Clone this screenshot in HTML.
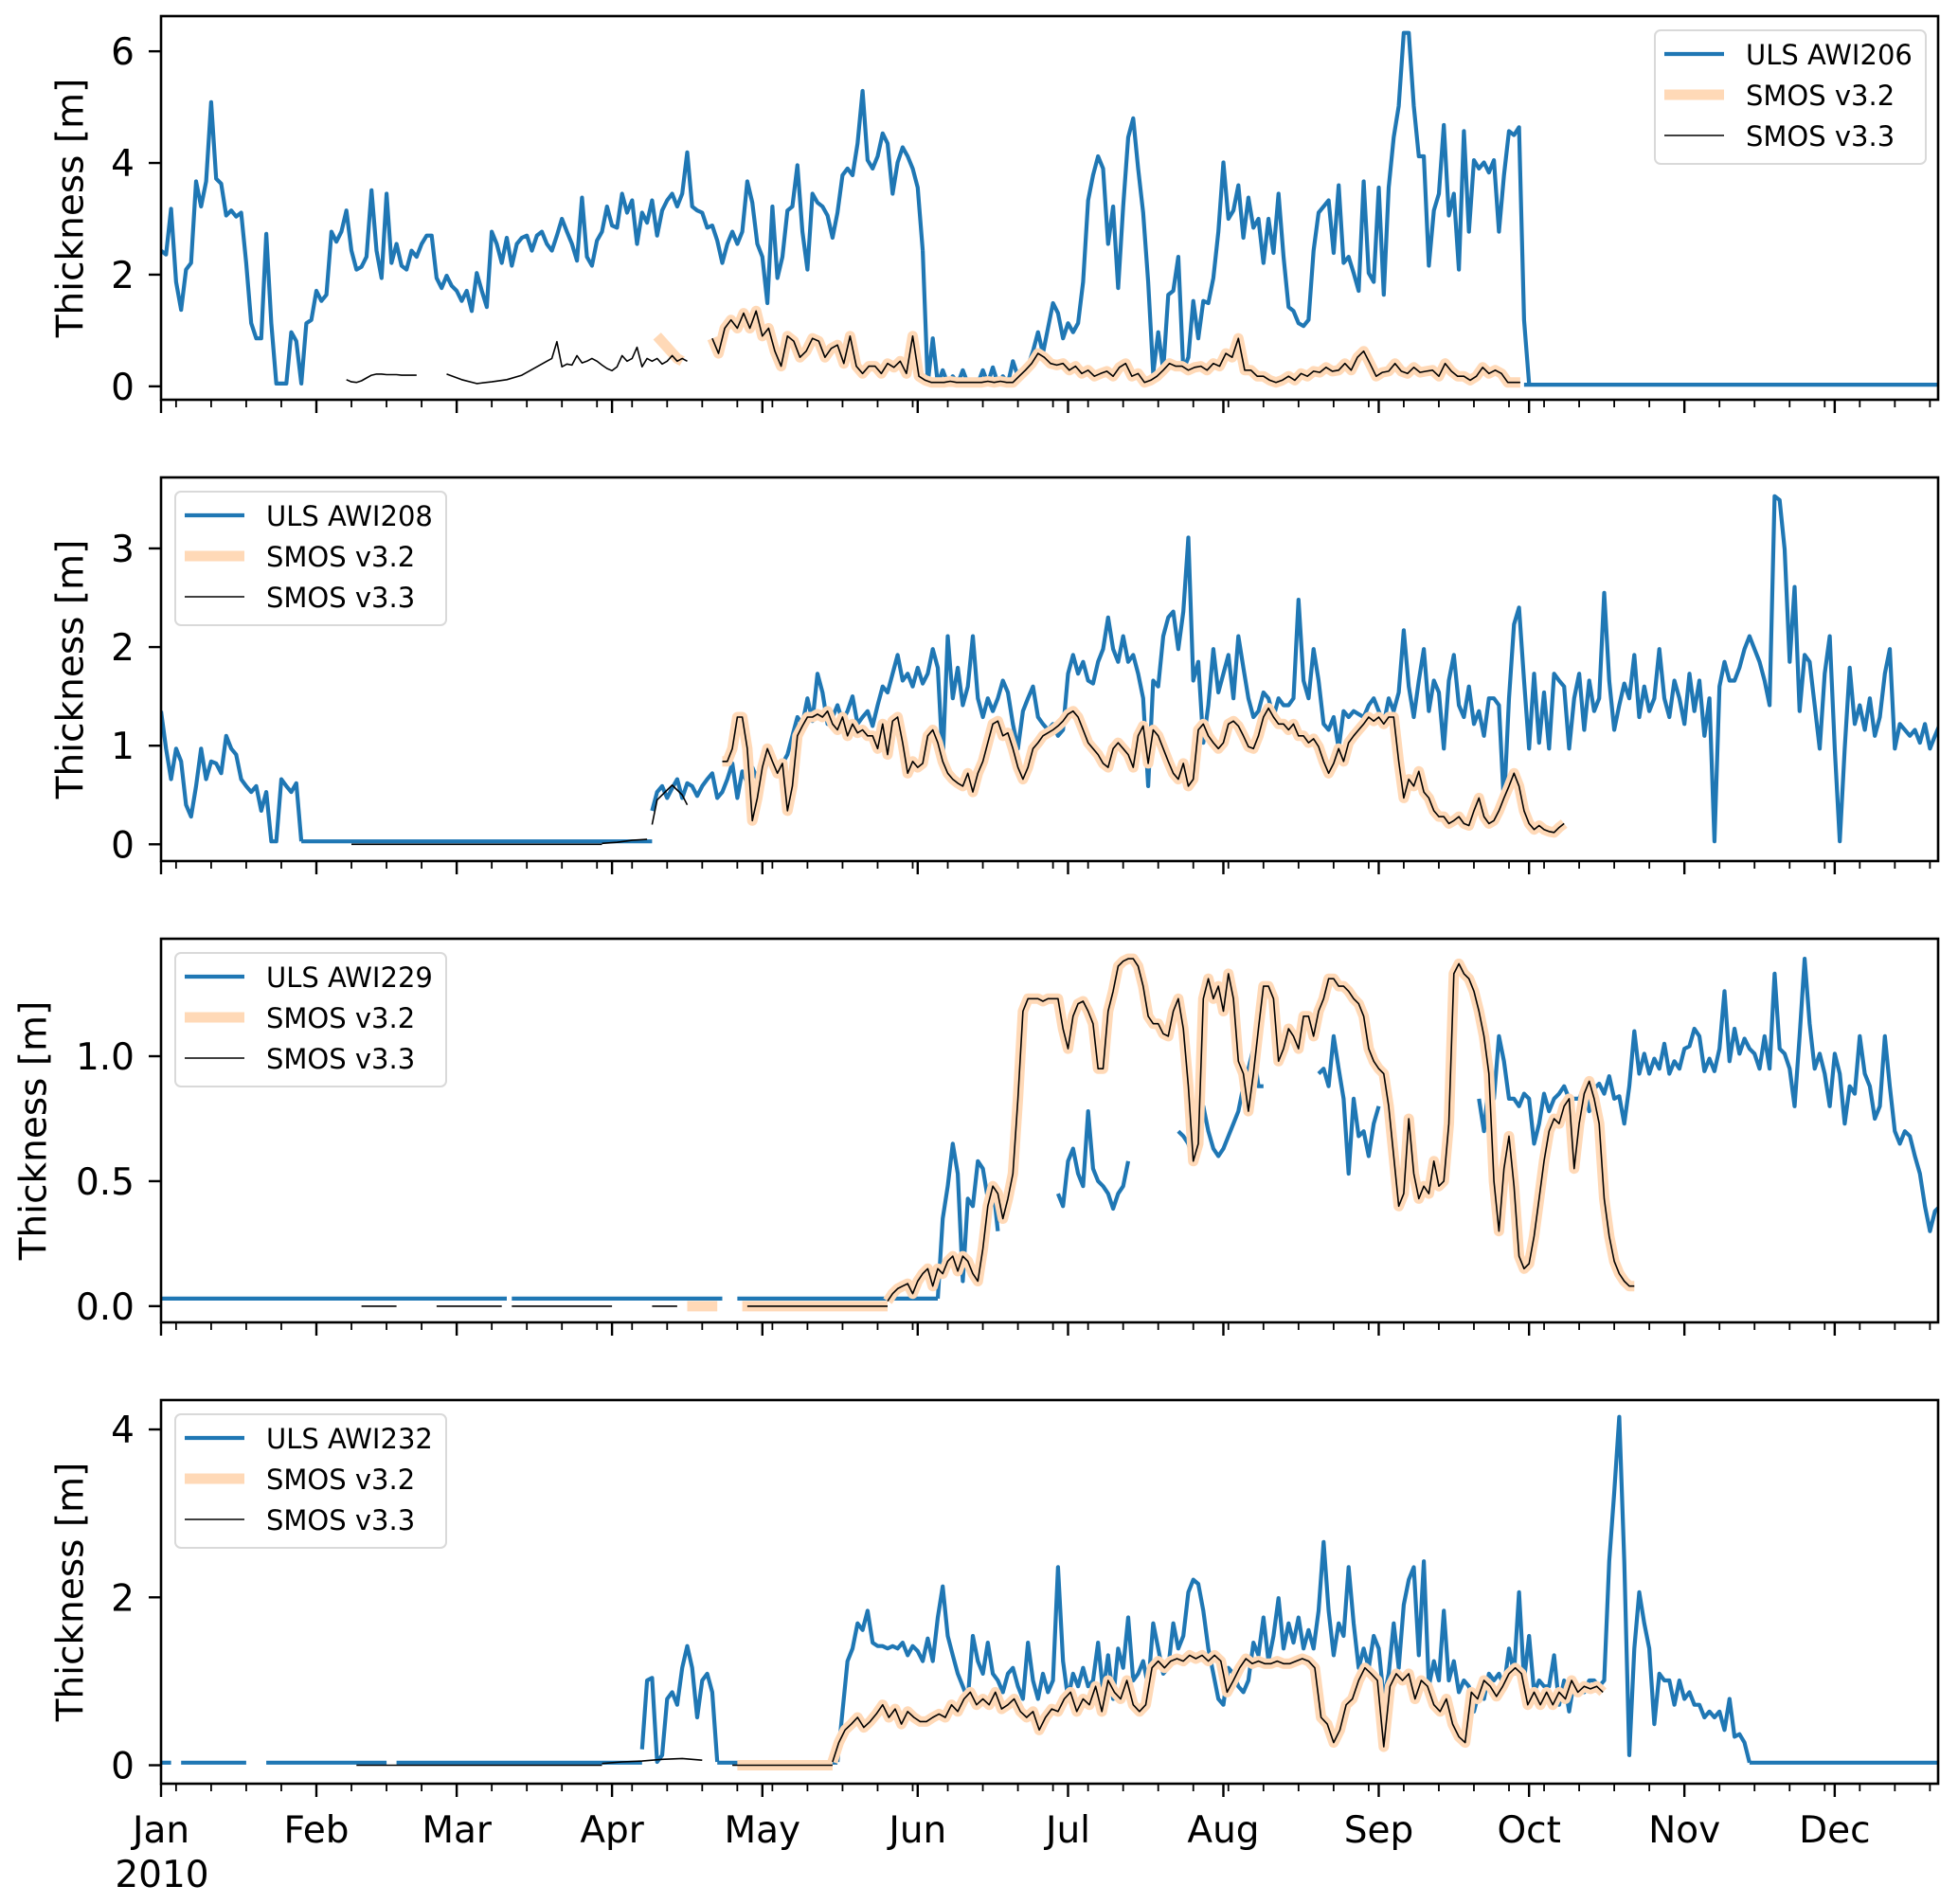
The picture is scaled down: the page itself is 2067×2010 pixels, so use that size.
<!DOCTYPE html>
<html><head><meta charset="utf-8">
<style>
html,body{margin:0;padding:0;background:#fff;}
svg{display:block;font-family:"DejaVu Sans","Liberation Sans",sans-serif;}
</style></head>
<body>
<svg id="chart" width="2067" height="2010" viewBox="0 0 2067 2010" xmlns="http://www.w3.org/2000/svg"></svg>
<script>
// ---------- DATA (day of year 2010, 0 = Jan 1; thickness in m) ----------
const monthLabels = ["Jan","Feb","Mar","Apr","May","Jun","Jul","Aug","Sep","Oct","Nov","Dec"];
const monthStartDays = [0,31,59,90,120,151,181,212,243,273,304,334];
const panelNames = ["ULS AWI206","ULS AWI208","ULS AWI229","ULS AWI232"];
const p1Ticks = [0,2,4,6];
const p2Ticks = [0,1,2,3];
const p3Ticks = [0.0,0.5,1.0];
const p4Ticks = [0,2,4];

// Panel 1
const p1Uls = [
 {d0:0, v:[2.43,2.36,3.18,1.87,1.37,2.09,2.21,3.67,3.22,3.67,5.09,3.72,3.63,3.06,3.15,3.04,3.11,2.21,1.13,0.86,.86,2.73,1.13,.05,.05,.05,.97,.81,.05,1.13,1.19,1.71,1.53,1.64,2.77,2.59,2.77,3.15,2.43,2.09,2.14,2.32,3.51,2.43,1.94,3.45,2.21,2.55,2.16,2.09,2.43,2.32,2.55,2.7,2.7,1.94,1.76,1.98,1.8,1.71,1.53,1.71,1.35,2.03,1.71,1.42,2.77,2.55,2.21,2.66,2.16,2.55,2.66,2.7,2.43,2.7,2.77,2.55,2.43,2.7,3.0,2.77,2.55,2.25,3.38,2.32,2.16,2.61,2.77,3.22,2.88,2.84,3.45,3.11,3.33,2.55,3.11,2.93,3.33,2.7,3.15,3.33,3.45,3.22,3.45,4.19,3.22,3.15,3.11,2.84,2.88,2.61,2.21,2.55,2.77,2.55,2.77,3.67,3.29,2.55,2.32,1.49,3.22,1.94,2.32,3.15,3.22,3.96,2.77,2.09,3.45,3.29,3.22,3.06,2.66,3.11,3.78,3.9,3.78,4.35,5.29,4.05,3.9,4.12,4.53,4.35,3.45,4.01,4.28,4.12,3.9,3.56,2.43]},
 {d0:152, v:[2.43,.05,.86,.05,.29,.05,.18,.05,.29,.05,.11,.05,.29,.05,.34,.05,.18,.05,.45,.18,.18,.36,.63,.97,.59,1.04,1.49,1.31,.86,1.13,.97,1.13,1.87,3.33,3.78,4.12,3.9,2.55,3.22,1.76,3.22,4.46,4.8,3.9,3.11,1.87,.23,.97,.29,1.64,1.71,2.32,.29,.52,1.53,.86,1.53,1.49,1.94,2.77,4.01,3.0,3.15,3.6,2.66,3.38,2.84,3.0,2.21,3.0,2.39,3.45,2.32,1.42,1.35,1.13,1.08,1.19,2.43,3.11,3.22,3.33,2.39,3.6,2.21,2.32,2.03,1.71,3.67,2.03,1.87,3.56,1.64,3.56,4.46,5.02,6.33,6.33,5.02,4.12,4.12,2.16,3.15,3.45,4.68,3.06,3.45,2.09,4.57,2.77,4.05,3.9,4.01,3.83,4.05,2.77,3.78,4.57,4.5,4.64,1.19,.05]},
 {d0:272, step:83, v:[0.03,0.03]}
];
const p1SmosMain = [.86,.59,1.04,1.19,1.04,1.31,1.04,1.35,.9,1.04,.63,.36,.9,.81,.52,.63,.86,.81,.52,.68,.74,.41,.9,.36,.23,.36,.36,.23,.41,.34,.45,.23,.9,.18,.11,.07,.07,.07,.09,.07,.07,.07,.07,.07,.09,.07,.09,.07,.07,.18,.29,.41,.59,.52,.41,.38,.41,.29,.36,.23,.29,.18,.23,.27,.18,.34,.41,.18,.23,.07,.11,.18,.29,.41,.36,.36,.29,.34,.36,.29,.41,.36,.59,.52,.86,.29,.29,.18,.18,.11,.07,.11,.18,.11,.23,.18,.27,.25,.34,.27,.29,.41,.29,.52,.63,.41,.18,.25,.27,.41,.27,.23,.34,.25,.27,.29,.18,.41,.27,.18,.18,.11,.18,.34,.23,.29,.23,.07,.07,.07];
const p1V33 = [
 {d0:37, v:[0.12,0.08,0.07,0.1,0.15,0.2,0.22,0.22,0.21,0.21,0.21,0.2,0.2,0.2,0.2]},
 {d:[57,60,63,66,69,72,75,77,78,79,80,81,82,83,84,85,86,87,88,89,90,91,92,93,94,95,96,97,98,99,100,101,102,103,104,105],
  v:[0.22,0.12,0.05,0.08,0.12,0.2,0.35,0.45,0.5,0.8,0.35,0.4,0.38,0.55,0.42,0.45,0.5,0.45,0.38,0.32,0.28,0.35,0.55,0.45,0.5,0.7,0.35,0.5,0.45,0.5,0.4,0.45,0.55,0.45,0.5,0.45]},
 {d0:110, step:1.25, v:p1SmosMain}
];
const p1V32 = [
 {d0:99, v:[0.9,0.8,0.7,0.6,0.5,0.45]},
 {d0:110, step:1.25, v:p1SmosMain}
];

// Panel 2
const p2Uls = [
 {d0:0, v:[1.35,.97,.66,.97,.84,.40,.28,.59,.97,.66,.84,.82,.72,1.10,.97,.91,.66,.59,.53,.59,.34,.53,.03,.03,.66,.59,.53,.62,.03]},
 {d0:28, step:70, v:[.03,.03]},
 {d0:98, v:[.34,.53,.59,.47,.57,.66,.47,.62,.59,.49,.59,.66,.72,.47,.53,.66,.82,.47,.74,.62,.78,.66,.66,.84,.84,.72,.82,.91,1.10,1.29,1.22,1.48,1.25,1.73,1.54,1.22,1.29,1.41,1.25,1.35,1.50,1.22,1.29,1.35,1.20,1.41,1.60,1.54,1.73,1.92,1.66,1.73,1.60,1.79,1.63,1.73,1.98,1.79,.84,2.11,1.48,1.79,1.41,1.60,2.11,1.48,1.29,1.48,1.35,1.48,1.66,1.54,1.22,.97,1.35,1.48,1.60,1.29,1.22,1.16,1.22,1.10,1.16,1.73,1.92,1.73,1.85,1.66,1.63,1.85,1.98,2.30,1.98,1.85,2.11,1.85,1.92,1.73,1.48,.59,1.66,1.60,2.11,2.30,2.36,1.98,2.36,3.11,1.66,1.85,1.03,1.41,1.98,1.54,1.73,1.92,1.48,2.11,1.79,1.48,1.29,1.35,1.54,1.48,1.29,1.48,1.41,1.41,1.48,2.48,1.66,1.48,1.98,1.66,1.22,1.16,1.29,.97,1.35,1.29,1.35,1.32,1.29,1.41,1.48,1.35,1.22,1.48,1.35,1.54,2.17,1.60,1.29,1.66,1.98,1.35,1.66,1.54,.97,1.66,1.92,1.41,1.29,1.60,1.22,1.35,1.10,1.48,1.48,1.41,.40,1.48,2.23,2.40,1.66,.97,1.73,1.03,1.54,.97,1.73,1.66,1.60,.97,1.48,1.73,1.16,1.66,1.35,1.48,2.55,1.66,1.16,1.41,1.63,1.48,1.92,1.29,1.60,1.35,1.48,1.98,1.48,1.29,1.66,1.48,1.22,1.73,1.35,1.66,1.10,1.48,.03,1.60,1.85,1.66,1.66,1.79,1.98,2.11,1.98,1.85,1.66,1.41,3.53,3.49,2.99,1.85,2.61,1.35,1.92,1.85,1.41,.97,1.73,2.11,.97,.03,.97,1.79,1.22,1.41,1.16,1.48,1.10,1.29,1.73,1.98,.97,1.22,1.16,1.10,1.16,1.03,1.22,.97,1.10,1.22,1.16]}
];
const p2SmosMain = [.84,.84,.97,1.29,1.29,.97,.24,.47,.78,.97,.84,.72,.82,.34,.59,1.10,1.20,1.29,1.29,1.32,1.29,1.35,1.22,1.16,1.29,1.10,1.22,1.13,1.16,1.10,1.10,.97,1.22,.91,1.25,1.29,1.03,.72,.84,.78,.82,1.10,1.16,1.03,.84,.72,.66,.62,.59,.72,.53,.72,.84,1.03,1.22,1.25,1.10,1.13,.97,.78,.66,.78,.97,1.03,1.10,1.13,1.16,1.20,1.25,1.32,1.35,1.29,1.16,1.03,.97,.91,.82,.78,.97,1.03,.97,.91,.78,1.10,1.20,.82,1.16,1.10,.97,.84,.72,.66,.82,.59,.66,1.16,1.22,1.10,1.03,.97,1.03,1.22,1.25,1.20,1.10,.99,.97,1.10,1.29,1.38,1.29,1.22,1.22,1.16,1.22,1.10,1.10,1.03,1.07,.99,.84,.72,.82,.97,.84,1.03,1.10,1.16,1.22,1.29,1.25,1.29,1.22,1.29,1.29,.84,.47,.66,.59,.74,.53,.47,.34,.28,.28,.21,.24,.28,.21,.19,.34,.47,.28,.21,.24,.34,.47,.59,.72,.59,.34,.21,.15,.19,.15,.13,.12,.17,.21];
const p2V33 = [
 {d0:38, step:50, v:[0,0]},
 {d:[88,91,94,97], v:[.01,.02,.04,.05]},
 {d0:98, v:[.2,.45,.5,.55,.6,.55,.5,.4]},
 {d0:112, v:p2SmosMain}
];
const p2V32 = [
 {d0:111, v:[.84]},
 {d0:112, v:p2SmosMain}
];

// Panel 3
const p3Uls = [
 {d0:0, step:69, v:[.03,.03]},
 {d0:70, step:42, v:[.03,.03]},
 {d0:115, step:40, v:[.03,.03]},
 {d0:155, v:[.03,.35,.48,.65,.53,.10,.43,.40,.58,.55,.43,.49,.30]},
 {d0:179, v:[.45,.40,.58,.63,.53,.48,.78,.55,.50,.48,.45,.39,.45,.48,.58]},
 {d0:203, v:[.70,.68,.65,.58,.78,.80,.70,.63,.60,.63,.68,.73,.78,.88,.95,1.03,.88,.88]},
 {d0:231, v:[.93,.95,.88,1.08,.95,.83,.53,.83,.68,.70,.60,.73,.80]},
 {d0:263, v:[.83,.70,.90,.83,1.08,.98,.83,.83,.80,.85,.83,.65,.73,.85,.78,.83,.85,.88,.83,.83,.83,.88,.78,.87,.89,.85,.92,.83,.84,.73,.88,1.10,.93,1.01,.93,.99,.95,1.05,.93,.98,.95,1.03,1.04,1.11,1.08,.94,.99,.94,1.03,1.26,.98,1.11,1.01,1.07,1.03,1.01,.95,1.08,.95,1.33,1.03,1.01,.95,.80,1.08,1.39,1.13,.95,1.01,.93,.80,1.01,.93,.73,.88,.85,1.08,.93,.88,.75,.80,1.08,.88,.70,.65,.70,.68,.60,.53,.40,.30,.38,.40,.88]}
];
const p3SmosMain = [.02,.05,.07,.08,.09,.05,.10,.13,.15,.08,.15,.13,.18,.20,.14,.20,.18,.13,.10,.23,.40,.48,.45,.35,.43,.53,.83,1.18,1.23,1.23,1.23,1.22,1.23,1.23,1.23,1.11,1.03,1.16,1.21,1.22,1.18,1.13,.95,.95,1.18,1.26,1.36,1.38,1.39,1.39,1.36,1.28,1.16,1.13,1.13,1.09,1.08,1.18,1.23,1.11,.88,.58,.65,1.23,1.31,1.23,1.28,1.18,1.33,1.23,.98,.93,.78,.93,1.11,1.28,1.28,1.23,.98,1.03,1.11,1.08,1.03,1.16,1.16,1.08,1.18,1.23,1.31,1.31,1.28,1.28,1.26,1.23,1.21,1.16,1.03,.98,.95,.93,.80,.60,.40,.45,.75,.53,.43,.48,.45,.58,.48,.50,.73,1.33,1.37,1.33,1.31,1.26,1.18,1.08,.93,.50,.30,.55,.68,.48,.20,.15,.17,.28,.43,.58,.70,.75,.73,.80,.83,.55,.73,.85,.90,.83,.73,.43,.28,.18,.13,.10,.08,.08];
const p3V33 = [
 {d0:40, step:7, v:[0,0]},
 {d0:55, step:13, v:[0,0]},
 {d0:70, step:20, v:[0,0]},
 {d0:98, step:5, v:[0,0]},
 {d0:117, step:28, v:[0,0]},
 {d0:145, v:p3SmosMain}
];
const p3V32 = [
 {d0:105, step:6, v:[0,0]},
 {d0:116, step:29, v:[0,0]},
 {d0:145, v:p3SmosMain}
];

// Panel 4
const p4Uls = [
 {d0:0, step:2, v:[.03,.03]},
 {d0:4, step:13, v:[.03,.03]},
 {d0:21, step:24, v:[.03,.03]},
 {d0:47, step:49, v:[.03,.03]},
 {d0:96, v:[.19,1.01,1.04,.04,.12,.79,.87,.72,1.16,1.42,1.16,.57,1.01,1.09,.87,.04]},
 {d0:111, step:24, v:[.03,.03]},
 {d0:135, v:[.04,.64,1.24,1.39,1.69,1.61,1.84,1.46,1.42,1.42,1.39,1.42,1.39,1.46,1.31,1.42,1.36,1.24,1.51,1.24,1.76,2.13,1.54,1.31,1.09,.94,.79,1.54,1.24,1.09,1.46,1.09,1.01,.87,1.09,1.16,.94,.79,1.46,1.01,.79,1.09,.87,1.01,2.36,1.24,.79,1.09,.94,1.16,.94,1.01,1.46,.87,1.31,.79,1.39,1.16,1.76,1.01,1.09,1.24,.94,1.69,1.39,1.09,1.16,1.69,1.39,1.54,2.06,2.21,2.16,1.84,1.39,1.09,.79,.72,1.16,1.09,.94,.87,1.01,1.46,1.31,1.76,1.24,1.54,1.99,1.39,1.69,1.46,1.76,1.39,1.61,1.39,1.84,2.66,1.84,1.31,1.69,1.54,2.36,1.69,1.16,1.39,1.16,1.54,1.39,.79,1.09,1.69,1.16,1.91,2.21,2.36,1.31,2.43,.94,1.24,1.01,1.84,1.01,1.24,.87,1.01,.94,.64,.87,.79,1.09,1.01,1.09,.94,1.39,1.09,2.06,1.01,1.54,.87,1.01,.94,.94,1.31,.72,1.01,.64,1.01,.87,.87,1.01,1.01,.94,1.01,2.43,3.25,4.15,2.43,.12,1.39,2.06,1.69,1.39,.49,1.09,1.01,1.01,.72,1.01,.79,.87,.72,.72,.57,.64,.57,.64,.42,.79,.34,.37,.27,.03]},
 {d0:317, step:38, v:[.03,.03]}
];
const p4SmosMain = [.04,.27,.42,.49,.57,.45,.52,.61,.72,.57,.67,.49,.64,.57,.52,.52,.57,.61,.57,.72,.64,.79,.87,.72,.79,.72,.87,.67,.72,.79,.64,.57,.64,.42,.57,.67,.64,.79,.87,.64,.79,.72,.94,.64,1.01,.87,.79,1.01,.72,.64,.72,1.16,1.24,1.16,1.24,1.27,1.24,1.31,1.27,1.31,1.24,1.31,1.24,.87,1.01,1.16,1.27,1.21,1.24,1.21,1.21,1.24,1.21,1.21,1.24,1.27,1.24,1.16,.57,.49,.27,.42,.72,.79,1.01,1.16,1.09,1.01,.22,.94,1.09,1.01,1.09,.79,1.01,.94,.72,.64,.79,.49,.34,.27,.87,.79,1.01,.94,.82,.94,1.09,1.16,1.09,.72,.87,.72,.87,.72,.87,.79,1.01,.87,.94,.91,.94,.87];
const p4V33 = [
 {d0:39, step:49, v:[0,0]},
 {d:[88,92,96,100,104,108], v:[.02,.04,.05,.07,.08,.06]},
 {d0:114, step:20, v:[0,0]},
 {d0:134, step:1.25, v:p4SmosMain}
];
const p4V32 = [
 {d0:115, step:19, v:[0,0]},
 {d0:134, step:1.25, v:p4SmosMain}
];

// ---------- LAYOUT ----------
const NS = "http://www.w3.org/2000/svg";
const svg = document.getElementById("chart");
const X0 = 170, PX_PER_DAY = 5.29, XR = 2046;
const PANEL_H = 405;
const panels = [
 {top:17,  ymin:-0.24, ymax:6.63, ticks:p1Ticks, fmt:v=>String(v), uls:p1Uls, v32:p1V32, v33:p1V33, legendRight:true, ylabX:75},
 {top:504, ymin:-0.17, ymax:3.72, ticks:p2Ticks, fmt:v=>String(v), uls:p2Uls, v32:p2V32, v33:p2V33, legendRight:false, ylabX:75},
 {top:991, ymin:-0.065,ymax:1.47, ticks:p3Ticks, fmt:v=>v.toFixed(1), uls:p3Uls, v32:p3V32, v33:p3V33, legendRight:false, ylabX:36},
 {top:1478,ymin:-0.22, ymax:4.35, ticks:p4Ticks, fmt:v=>String(v), uls:p4Uls, v32:p4V32, v33:p4V33, legendRight:false, ylabX:75}
];
const xScale = d => X0 + d*PX_PER_DAY;
function mk(tag, attrs, parent){
  const e = document.createElementNS(NS, tag);
  for (const k in attrs) e.setAttribute(k, attrs[k]);
  (parent||svg).appendChild(e);
  return e;
}
function segPath(seg, yScale){
  let dstr = "";
  let pen = false;
  for (let i=0;i<seg.v.length;i++){
    const day = seg.d ? seg.d[i] : seg.d0 + i*(seg.step||1);
    const val = seg.v[i];
    if (val===null || val===undefined){ pen=false; continue; }
    dstr += (pen?"L":"M") + xScale(day).toFixed(1) + " " + yScale(val).toFixed(1) + " ";
    pen = true;
  }
  return dstr;
}
const lastDay = (XR - X0)/PX_PER_DAY;
const minorDays = [];
for (let d=3; d<=lastDay; d+=7) minorDays.push(d);

panels.forEach((p, pi) => {
  const bottom = p.top + PANEL_H;
  const yScale = v => bottom - (v - p.ymin)/(p.ymax - p.ymin)*PANEL_H;
  const g = mk("g", {});
  
  
  const clipId = "clip"+pi;
  const cp = mk("clipPath", {id:clipId}, g);
  mk("rect", {x:X0, y:p.top, width:XR-X0, height:PANEL_H}, cp);
  const plot = mk("g", {"clip-path":"url(#"+clipId+")"}, g);
  const series = [
    {segs:p.uls, stroke:"#1f77b4", w:4.2, name:"uls-series"},
    {segs:p.v32, stroke:"#ffd9b7", w:11, name:"smos-v32-series"},
    {segs:p.v33, stroke:"#000000", w:1.6, name:"smos-v33-series"}
  ];
  series.forEach(s => {
    const sg = mk("g", {}, plot);
    
    
    s.segs.forEach(seg => {
      const path = mk("path", {d:segPath(seg, yScale), fill:"none", stroke:s.stroke, "stroke-width":s.w, "stroke-linejoin":"round", "stroke-linecap":"butt"}, sg);
      
      
    });
  });
  // frame
  const frame = mk("rect", {x:X0, y:p.top, width:XR-X0, height:PANEL_H, fill:"none", stroke:"#000", "stroke-width":2.6}, g);
  
  
  // y ticks
  p.ticks.forEach(t => {
    const y = yScale(t);
    mk("line", {x1:X0-13, x2:X0, y1:y, y2:y, stroke:"#000", "stroke-width":2.4}, g);
    const tx = mk("text", {x:142, y:y+14, "text-anchor":"end", "font-size":39, fill:"#000"}, g);
    tx.textContent = p.fmt(t);
    
    
  });
  // y label
  const cy = p.top + PANEL_H/2;
  const yl = mk("text", {x:p.ylabX, y:cy, "text-anchor":"middle", "dominant-baseline":"central", "font-size":39, transform:"rotate(-90 "+p.ylabX+" "+cy+")"}, g);
  yl.textContent = "Thickness [m]";
  
  
  // x ticks
  monthStartDays.forEach(d => {
    const x = xScale(d);
    mk("line", {x1:x, x2:x, y1:bottom, y2:bottom+14, stroke:"#000", "stroke-width":2.4}, g);
  });
  minorDays.forEach(d => {
    const x = xScale(d);
    mk("line", {x1:x, x2:x, y1:bottom, y2:bottom+8, stroke:"#000", "stroke-width":1.8}, g);
  });
  if (pi === 3){
    monthStartDays.forEach((d, i) => {
      const t = mk("text", {x:xScale(d), y:1945, "text-anchor":"middle", "font-size":39}, g);
      t.textContent = monthLabels[i];
      
      
    });
    const yr = mk("text", {x:171, y:1992, "text-anchor":"middle", "font-size":39}, g);
    yr.textContent = "2010";
    
    
  }
  // legend
  const lx = p.legendRight ? 1747 : 185;
  const ly = p.top + 15;
  const lg = mk("g", {}, g);
  
  
  mk("rect", {x:lx, y:ly, width:286, height:141, rx:6, fill:"#fff", "fill-opacity":0.8, stroke:"#d9d9d9", "stroke-width":2}, lg);
  const entries = [
    {label:panelNames[pi], stroke:"#1f77b4", w:4.2},
    {label:"SMOS v3.2", stroke:"#ffd9b7", w:11},
    {label:"SMOS v3.3", stroke:"#000", w:1.6}
  ];
  entries.forEach((e, i) => {
    const ry = ly + 25 + i*43;
    const eg = mk("g", {}, lg);
    
    
    mk("line", {x1:lx+10, x2:lx+73, y1:ry, y2:ry, stroke:e.stroke, "stroke-width":e.w}, eg);
    const t = mk("text", {x:lx+96, y:ry+11, "font-size":29}, eg);
    t.textContent = e.label;
  });
});
</script>
</body></html>
